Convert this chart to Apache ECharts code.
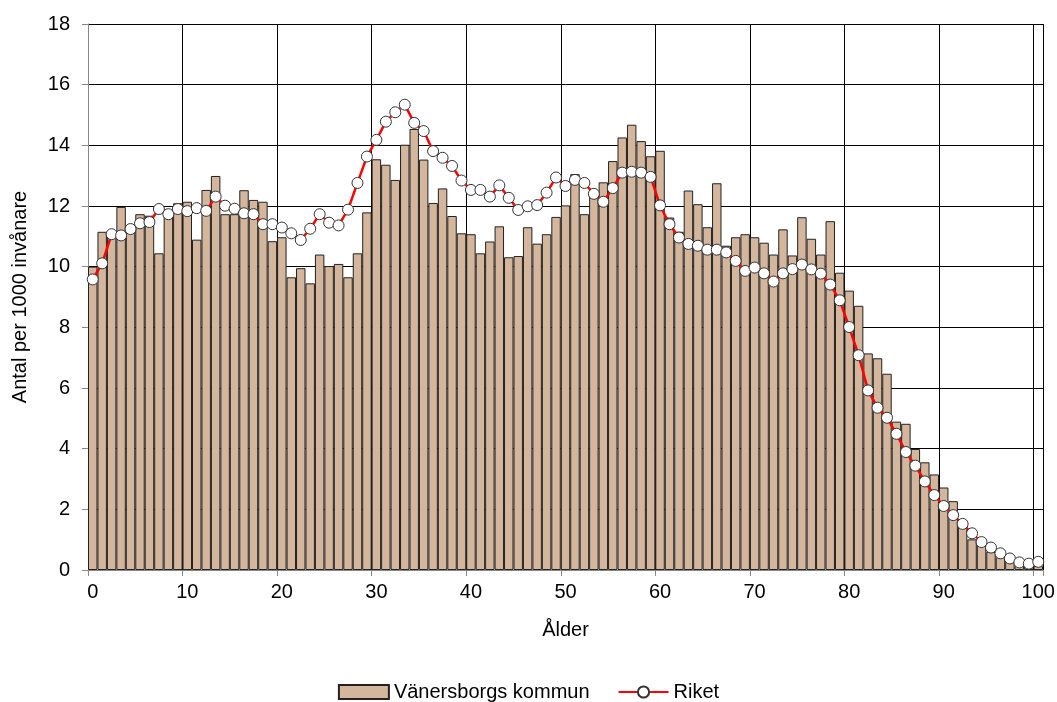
<!DOCTYPE html>
<html>
<head>
<meta charset="utf-8">
<script src="https://cdn.jsdelivr.net/npm/echarts@6/dist/echarts.min.js"></script>
<style>
html,body{margin:0;padding:0;background:#fff;}
#chart{width:1057px;height:702px;}
</style>
</head>
<body>
<div id="chart"></div>
<script>
// Ages 0..100
const ages = [];
for (let a = 0; a <= 100; a++) ages.push(String(a));

const vanersborg = [
  10.0, 11.15, 11.05, 11.97, 11.25, 11.73, 11.68, 10.44, 11.75, 12.09,
  12.14, 10.89, 12.53, 12.99, 11.73, 11.73, 12.52, 12.2, 12.14, 10.84,
  10.97, 9.65, 9.95, 9.45, 10.4, 10.02, 10.09, 9.65, 10.44, 11.79,
  13.54, 13.36, 12.86, 14.02, 14.54, 13.53, 12.1, 12.58, 11.67, 11.1,
  11.07, 10.44, 10.83, 11.33, 10.31, 10.35, 11.3, 10.76, 11.07, 11.64,
  12.02, 13.05, 11.73, 12.35, 12.78, 13.48, 14.26, 14.68, 14.14, 13.64,
  13.82, 11.62, 11.15, 12.51, 12.06, 11.3, 12.75, 10.69, 10.97, 11.07,
  10.97, 10.79, 10.4, 11.23, 10.37, 11.63, 10.92, 10.4, 11.5, 9.8,
  9.21, 8.71, 7.14, 6.98, 6.47, 4.89, 4.82, 3.99, 3.55, 3.15,
  2.72, 2.27, 1.55, 1.01, 0.88, 0.6, 0.42, 0.27, 0.2, 0.13,
  0.13
];

const riket = [
  9.58, 10.11, 11.07, 11.03, 11.24, 11.43, 11.47, 11.9, 11.73, 11.9,
  11.83, 11.93, 11.84, 12.31, 12.01, 11.91, 11.76, 11.73, 11.4, 11.4,
  11.29, 11.1, 10.88, 11.25, 11.73, 11.45, 11.36, 11.88, 12.76, 13.63,
  14.18, 14.78, 15.09, 15.34, 14.74, 14.47, 13.81, 13.59, 13.32, 12.84,
  12.53, 12.53, 12.31, 12.68, 12.27, 11.87, 11.99, 12.03, 12.44, 12.94,
  12.66, 12.86, 12.76, 12.4, 12.14, 12.59, 13.1, 13.13, 13.1, 12.96,
  12.02, 11.4, 10.96, 10.75, 10.69, 10.56, 10.56, 10.47, 10.19, 9.86,
  9.97, 9.78, 9.51, 9.78, 9.92, 10.07, 9.91, 9.77, 9.41, 8.89,
  8.01, 7.08, 5.92, 5.35, 5.02, 4.49, 3.89, 3.44, 2.92, 2.47,
  2.11, 1.81, 1.52, 1.21, 0.92, 0.74, 0.55, 0.38, 0.25, 0.21,
  0.27
];

const seriesNames = ['Vänersborgs kommun', 'Riket'];
const xAxisName = 'Ålder';
const yAxisName = 'Antal per 1000 invånare';

const FONT = '"Liberation Sans", Arial, sans-serif';
const chart = echarts.init(document.getElementById('chart'), null, {renderer: 'canvas'});
chart.setOption({
  animation: false,
  backgroundColor: '#fff',
  textStyle: {fontFamily: FONT, color: '#000'},
  grid: {left: 88, right: 14, top: 24, bottom: 132, containLabel: false, outerBoundsMode: 'none'},
  legend: {
    top: 677,
    left: 'center',
    itemWidth: 50,
    itemHeight: 14,
    itemGap: 28,
    textStyle: {fontFamily: FONT, fontSize: 20, color: '#000'},
    data: [
      {name: seriesNames[0], icon: 'rect'},
      {name: seriesNames[1]}
    ]
  },
  xAxis: {
    type: 'category',
    data: ages,
    boundaryGap: true,
    name: xAxisName,
    nameLocation: 'middle',
    nameGap: 50,
    nameTextStyle: {fontFamily: FONT, fontSize: 20, color: '#000'},
    axisLine: {lineStyle: {color: '#888', width: 1}},
    axisTick: {show: true, interval: 9, length: 6, lineStyle: {color: '#888'}},
    axisLabel: {interval: 9, fontFamily: FONT, fontSize: 20, color: '#000', margin: 12},
    splitLine: {show: true, interval: 9, lineStyle: {color: '#000', width: 1}}
  },
  yAxis: {
    type: 'value',
    min: 0,
    max: 18,
    interval: 2,
    name: yAxisName,
    nameLocation: 'middle',
    nameGap: 58,
    nameRotate: 90,
    nameTextStyle: {fontFamily: FONT, fontSize: 20, color: '#000'},
    axisLine: {show: true, lineStyle: {color: '#888', width: 1}},
    axisTick: {show: true, length: 6, inside: false, lineStyle: {color: '#888'}},
    axisLabel: {fontFamily: FONT, fontSize: 20, color: '#000', margin: 18},
    splitLine: {show: true, lineStyle: {color: '#000', width: 1}}
  },
  series: [
    {
      name: seriesNames[0],
      type: 'bar',
      data: vanersborg,
      barCategoryGap: '0%',
      itemStyle: {color: '#D3B69C', borderColor: '#222', borderWidth: 1}
    },
    {
      name: seriesNames[1],
      type: 'line',
      data: riket,
      symbol: 'circle',
      symbolSize: 11,
      showAllSymbol: true,
      lineStyle: {color: '#FF0000', width: 2.5},
      itemStyle: {color: '#FFFFFF', borderColor: '#333', borderWidth: 1}
    }
  ]
});
</script>
</body>
</html>
